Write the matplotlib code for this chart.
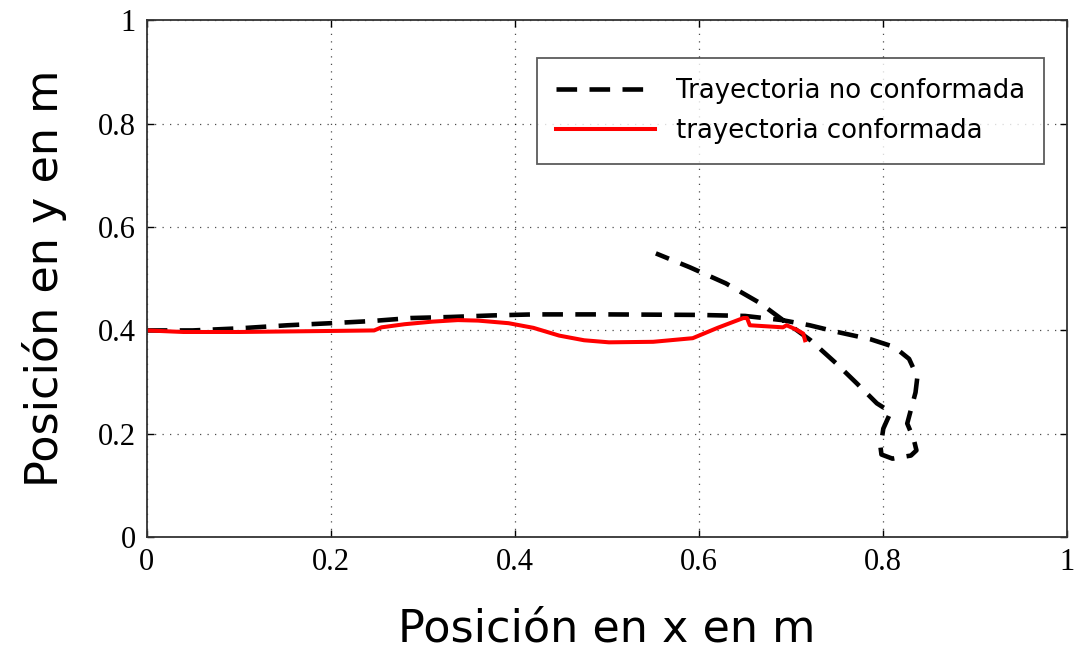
import numpy as np
import matplotlib
matplotlib.use("Agg")
import matplotlib.pyplot as plt

# trayectoria no conformada (negra, discontinua)
x_nc = [0.0, 0.05, 0.10, 0.153, 0.20, 0.243, 0.287, 0.33, 0.375, 0.42, 0.50, 0.60, 0.65,
        0.69, 0.72, 0.75, 0.786, 0.812, 0.828, 0.837, 0.835, 0.826, 0.833, 0.836, 0.83, 0.81,
        0.798, 0.797, 0.80, 0.808, 0.793, 0.771, 0.749, 0.721, 0.691, 0.666, 0.629, 0.59, 0.553]
y_nc = [0.400, 0.400, 0.404, 0.410, 0.414, 0.418, 0.424, 0.426, 0.429, 0.431, 0.431, 0.430, 0.428,
        0.420, 0.410, 0.397, 0.383, 0.368, 0.345, 0.31, 0.28, 0.22, 0.19, 0.168, 0.158, 0.152,
        0.16, 0.174, 0.21, 0.242, 0.259, 0.298, 0.336, 0.381, 0.42, 0.453, 0.491, 0.522, 0.549]

# trayectoria conformada (roja)
x_c = [0.0, 0.04, 0.10, 0.20, 0.247, 0.255, 0.28, 0.31, 0.338, 0.36, 0.393, 0.42, 0.448, 0.475,
       0.502, 0.55, 0.593, 0.62, 0.648, 0.652, 0.655, 0.691, 0.695, 0.705, 0.713, 0.715]
y_c = [0.400, 0.397, 0.397, 0.399, 0.400, 0.406, 0.412, 0.417, 0.420, 0.419, 0.414, 0.405, 0.390, 0.381,
       0.377, 0.378, 0.385, 0.405, 0.424, 0.424, 0.410, 0.406, 0.410, 0.402, 0.394, 0.381]

xticks = [0, 0.2, 0.4, 0.6, 0.8, 1]
xtick_labels = ["0", "0.2", "0.4", "0.6", "0.8", "1"]
yticks = [0, 0.2, 0.4, 0.6, 0.8, 1]
ytick_labels = ["0", "0.2", "0.4", "0.6", "0.8", "1"]

fig = plt.figure(figsize=(10.87, 6.52), dpi=100)
ax = fig.add_axes([0.135, 0.176, 0.847, 0.793])

ax.plot(x_nc, y_nc, color="black", lw=3.3, dashes=(4.5, 2.7), label="Trayectoria no conformada")
ax.plot(x_c, y_c, color="red", lw=2.9, solid_joinstyle="round", label="trayectoria conformada")

ax.set_xlim(0, 1)
ax.set_ylim(0, 1)
ax.set_xticks(xticks)
ax.set_xticklabels(xtick_labels, family="Liberation Serif", fontsize=22)
ax.set_yticks(yticks)
ax.set_yticklabels(ytick_labels, family="Liberation Serif", fontsize=22)
ax.tick_params(direction="in", length=5, width=1, top=True, right=True, pad=8)
ax.grid(True, color="black", ls=(0, (1, 5)), lw=0.9, alpha=0.7)

for s in ax.spines.values():
    s.set_linewidth(1.3)
    s.set_color("#333333")

ax.set_xlabel("Posición en x en m", family="DejaVu Sans", fontsize=32, labelpad=22)
ax.set_ylabel("Posición en y en m", family="DejaVu Sans", fontsize=32, labelpad=22)

leg = ax.legend(loc="upper right", bbox_to_anchor=(0.975, 0.926), borderaxespad=0,
                prop={"family": "DejaVu Sans", "size": 18.7},
                frameon=True, fancybox=False, edgecolor="#333333", handlelength=3.8,
                borderpad=0.75, labelspacing=0.55)
leg.get_frame().set_linewidth(1.3)

fig.savefig("out.png", dpi=100)
